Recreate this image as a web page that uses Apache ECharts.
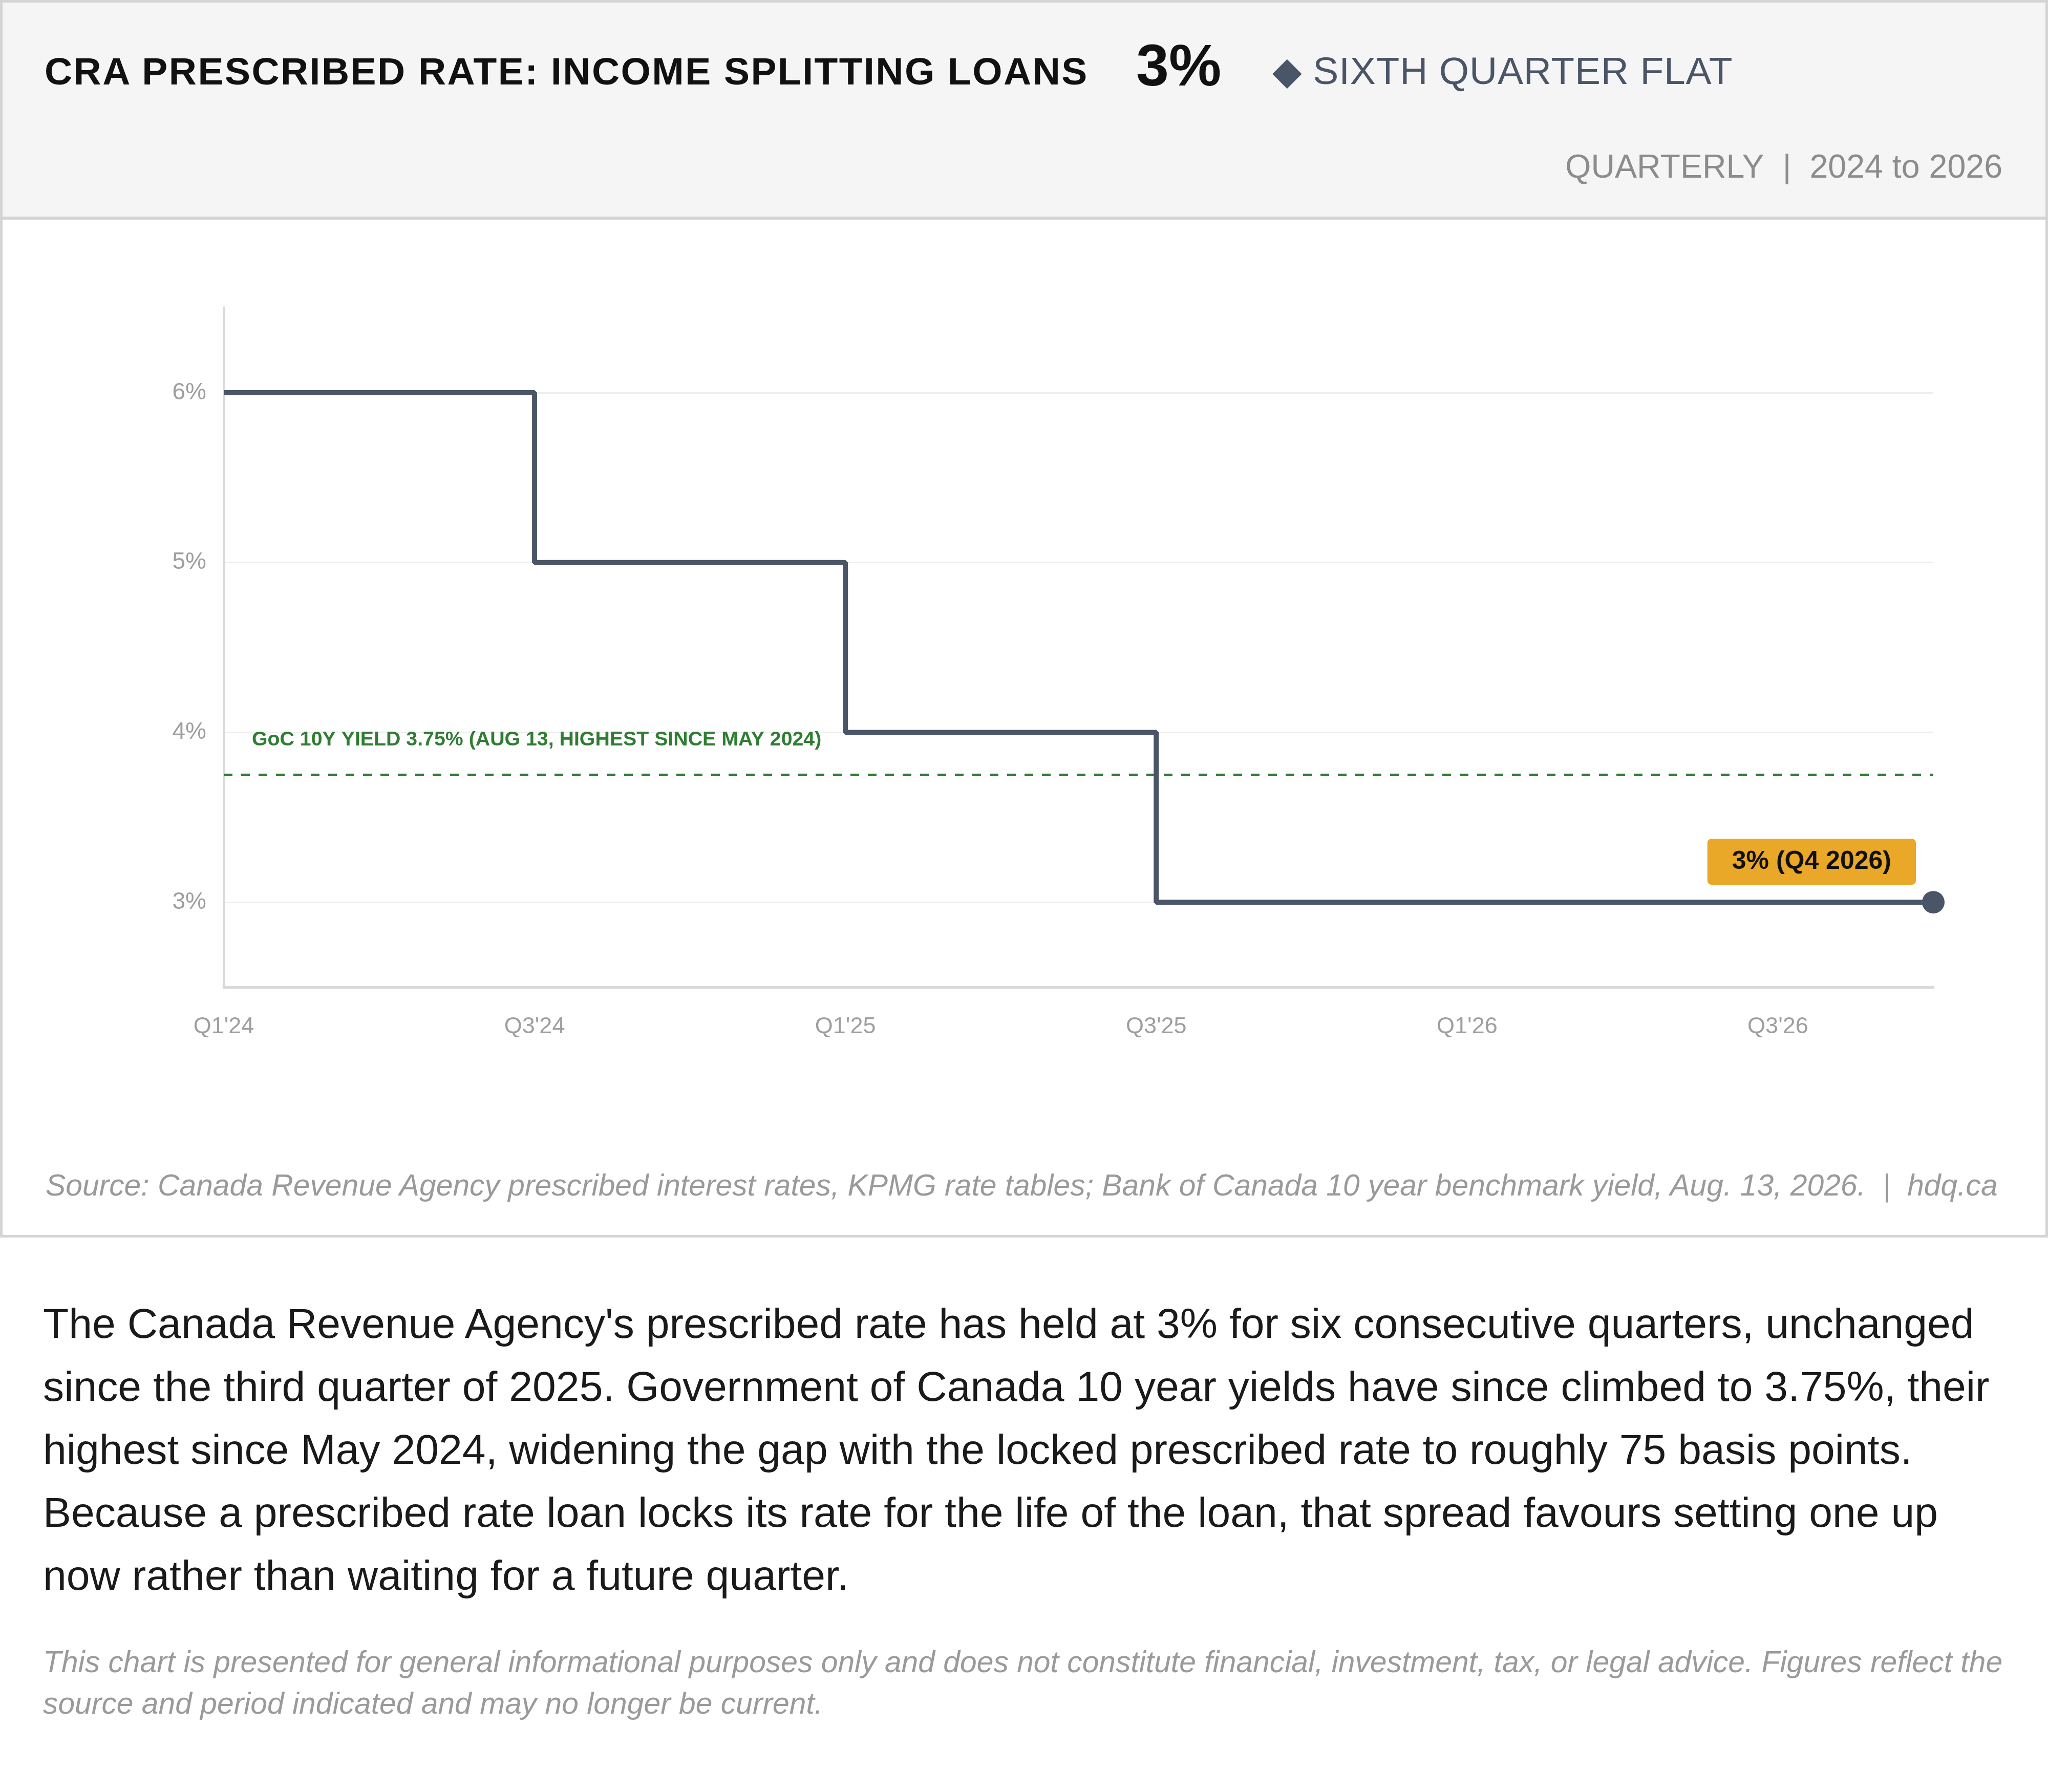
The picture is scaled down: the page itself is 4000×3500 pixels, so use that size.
<!DOCTYPE html>
<html>
<head>
<meta charset="utf-8">
<title>CRA prescribed rate</title>
<script src="https://cdn.jsdelivr.net/npm/echarts@6/dist/echarts.min.js"></script>
<style>
  html, body { margin: 0; padding: 0; background: #fff; }
  body { width: 4000px; height: 3500px; position: relative; font-family: "Liberation Sans", Arial, sans-serif; }
  .abs { position: absolute; white-space: nowrap; }
  #frame { position: absolute; left: 0; top: 0; width: 4000px; height: 2417px; box-sizing: border-box; border: 5px solid #d4d4d4; }
  #head { position: absolute; left: 5px; top: 5px; width: 3990px; height: 418px; background: #f5f5f5; border-bottom: 6px solid #d4d4d4; }
  #title { left: 87px; top: 102px; font-size: 75px; line-height: 75px; font-weight: bold; color: #111; letter-spacing: 2.45px; }
  #big { left: 2219px; top: 70px; font-size: 115px; line-height: 115px; font-weight: bold; color: #111; }
  #flag { left: 2485px; top: 101px; font-size: 75px; line-height: 75px; color: #4a5568; letter-spacing: 0.8px; }
  #flag .dia { font-family: "DejaVu Sans", sans-serif; letter-spacing: 0; }
  #period { right: 89px; top: 293px; font-size: 64.5px; line-height: 64.5px; color: #8c8c8c; }
  #period .sep { margin: 0 36px; }
  #chart { position: absolute; left: 0; top: 429px; width: 4000px; height: 1771px; }
  #source { left: 89px; top: 2286px; font-size: 58.8px; line-height: 58.8px; font-style: italic; color: #9a9a9a; }
  #source .sep { margin: 0 33px; }
  #para { position: absolute; left: 84px; top: 2523px; width: 3860px; font-size: 82.3px; line-height: 123px; color: #1a1a1a; margin: 0; }
  #note { position: absolute; left: 84px; top: 3205px; width: 3870px; font-size: 58.8px; line-height: 81px; font-style: italic; color: #9a9a9a; margin: 0; }
</style>
</head>
<body>
<div id="frame"></div>
<div id="head"></div>
<div id="title" class="abs">CRA PRESCRIBED RATE: INCOME SPLITTING LOANS</div>
<div id="big" class="abs">3%</div>
<div id="flag" class="abs"><span class="dia">◆</span> SIXTH QUARTER FLAT</div>
<div id="period" class="abs">QUARTERLY<span class="sep">|</span>2024 to 2026</div>
<div id="chart"></div>
<div id="source" class="abs">Source: Canada Revenue Agency prescribed interest rates, KPMG rate tables; Bank of Canada 10 year benchmark yield, Aug. 13, 2026.<span class="sep">|</span>hdq.ca</div>
<p id="para">The Canada Revenue Agency's prescribed rate has held at 3% for six consecutive quarters, unchanged since the third quarter of 2025. Government of Canada 10 year yields have since climbed to 3.75%, their highest since May 2024, widening the gap with the locked prescribed rate to roughly 75 basis points. Because a prescribed rate loan locks its rate for the life of the loan, that spread favours setting one up now rather than waiting for a future quarter.</p>
<p id="note">This chart is presented for general informational purposes only and does not constitute financial, investment, tax, or legal advice. Figures reflect the source and period indicated and may no longer be current.</p>

<script>
// quarterly prescribed rate, Q1 2024 .. Q4 2026
var quarters = ["Q1'24", "Q2'24", "Q3'24", "Q4'24", "Q1'25", "Q2'25", "Q3'25", "Q4'25", "Q1'26", "Q2'26", "Q3'26", "Q4'26"];
var rates = [6, 6, 5, 5, 4, 4, 3, 3, 3, 3, 3, 3];
var yTicks = [3, 4, 5, 6];
var yMin = 2.5, yMax = 6.5;

var gocYield = 3.75;
var gocLabel = 'GoC 10Y YIELD 3.75% (AUG 13, HIGHEST SINCE MAY 2024)';
var endLabel = '3% (Q4 2026)';

var slate = '#4a5568';
var green = '#2e7d32';

var lineData = rates.map(function (v, i) {
    if (i < rates.length - 1) return v;
    return {
        value: v,
        symbol: 'circle',
        symbolSize: 44,
        label: {
            show: true,
            formatter: endLabel,
            position: [-12, -12],
            align: 'right',
            verticalAlign: 'bottom',
            color: '#111',
            fontSize: 50,
            fontWeight: 'bold',
            fontFamily: 'Liberation Sans, Arial, sans-serif',
            backgroundColor: '#e9a827',
            borderRadius: 8,
            padding: [20, 48]
        }
    };
});

var chartOption = {
    animation: false,
    textStyle: { fontFamily: 'Liberation Sans, Arial, sans-serif' },
    grid: { left: 437, top: 172, width: 3339, height: 1327, containLabel: false },
    xAxis: {
        type: 'category',
        data: quarters,
        boundaryGap: false,
        axisLine: { lineStyle: { color: '#d9d9d9', width: 5 } },
        axisTick: { show: false },
        splitLine: { show: false },
        axisLabel: { interval: 1, color: '#9e9e9e', fontSize: 45, margin: 55 }
    },
    yAxis: {
        type: 'value',
        min: yMin,
        max: yMax,
        axisLine: { show: true, lineStyle: { color: '#d9d9d9', width: 5 } },
        axisTick: { show: false, customValues: yTicks },
        axisLabel: { customValues: yTicks, formatter: '{value}%', color: '#9e9e9e', fontSize: 46, margin: 34, padding: [4, 0, 0, 0] },
        splitLine: { show: true, lineStyle: { color: '#eeeeee', width: 3 } }
    },
    series: [
        {
            type: 'line',
            data: lineData,
            step: 'end',
            symbol: 'none',
            showSymbol: true,
            showAllSymbol: true,
            itemStyle: { color: slate },
            lineStyle: { color: slate, width: 10 },
            z: 3,
            markLine: {
                silent: true,
                symbol: ['none', 'none'],
                z: 2,
                lineStyle: { color: green, width: 5, type: [17, 17] },
                label: {
                    show: true,
                    position: 'insideStartTop',
                    formatter: gocLabel,
                    color: green,
                    fontSize: 39.3,
                    fontWeight: 'bold',
                    distance: [55, 49]
                },
                data: [{ yAxis: gocYield }]
            }
        }
    ]
};

var myChart = echarts.init(document.getElementById('chart'));
myChart.setOption(chartOption);
</script>
</body>
</html>
